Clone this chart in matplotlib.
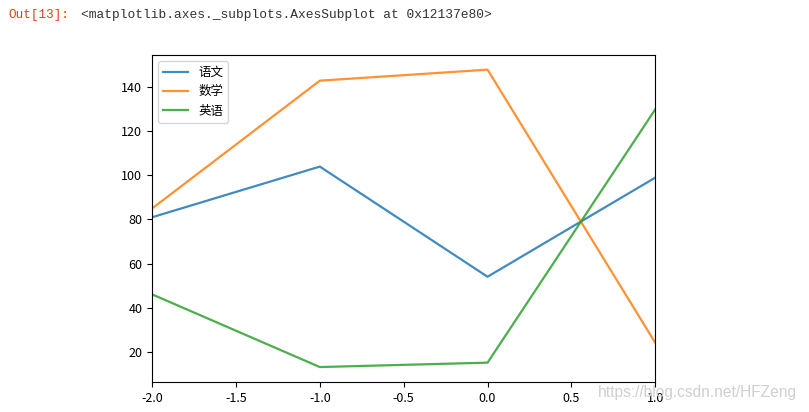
import matplotlib.pyplot as plt

plt.rcParams['font.family'] = ['Noto Sans CJK SC', 'DejaVu Sans']
plt.rcParams['axes.unicode_minus'] = False

x_index = [-2, -1, 0, 1]
chinese = [81, 104, 54, 99]
math = [85, 143, 148, 24]
english = [46, 13, 15, 130]
series_names = ['语文', '数学', '英语']

OUT_LABEL = "Out[13]:"
REPR_TEXT = "<matplotlib.axes._subplots.AxesSubplot at 0x12137e80>"
WATERMARK = "https://blog.csdn.net/HFZeng"

fig = plt.figure(figsize=(8.09, 4.12), dpi=100)
ax = fig.add_axes([0.188, 0.073, 0.622, 0.794])

for values, name in zip([chinese, math, english], series_names):
    ax.plot(x_index, values, label=name, linewidth=1.6, alpha=0.85)

ax.set_xlim(x_index[0], x_index[-1])
ax.tick_params(labelsize=9)
ax.legend(loc='upper left', fontsize=9)

# notebook output header
fig.text(8 / 809, 1 - 15 / 412, OUT_LABEL, color='#d84315', fontsize=9.1,
         family='Liberation Mono', va='center')
fig.text(81 / 809, 1 - 15 / 412, REPR_TEXT, color='#333333', fontsize=9.3,
         family='Liberation Mono', va='center')

# watermark
fig.text(598 / 809, 1 - 393 / 412, WATERMARK, color='#cfcfcf', fontsize=11.2,
         family='Liberation Sans', va='center')

fig.savefig('out.png', dpi=100)
